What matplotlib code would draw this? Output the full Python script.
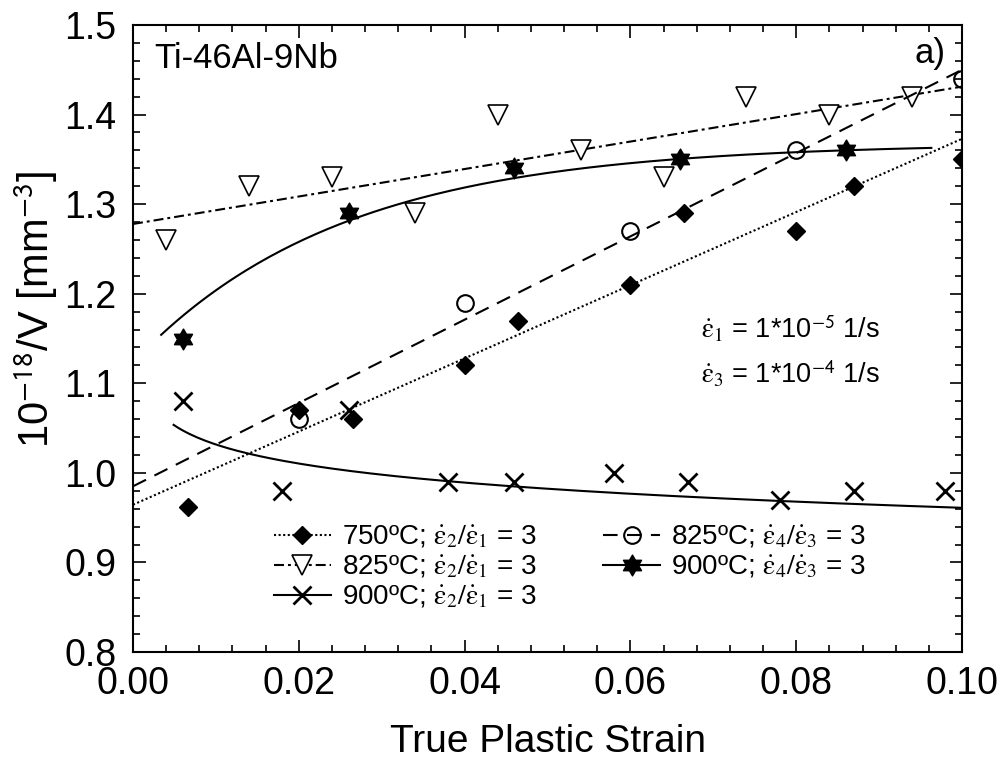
import numpy as np
import matplotlib
matplotlib.use("Agg")
import matplotlib.pyplot as plt
from matplotlib.path import Path
from matplotlib.lines import Line2D

plt.rcParams['font.family'] = ['Liberation Sans', 'DejaVu Sans']
plt.rcParams['mathtext.fontset'] = 'stix'

# ---------------- data ----------------
x_750 = [0.0066, 0.020, 0.0265, 0.040, 0.0465, 0.060, 0.0665, 0.080, 0.087, 0.100]
y_750 = [0.962, 1.07, 1.06, 1.12, 1.17, 1.21, 1.29, 1.27, 1.32, 1.35]

x_825a = [0.004, 0.014, 0.024, 0.034, 0.044, 0.054, 0.064, 0.074, 0.084, 0.094]
y_825a = [1.26, 1.32, 1.33, 1.29, 1.40, 1.36, 1.33, 1.42, 1.40, 1.42]

x_900a = [0.006, 0.018, 0.026, 0.038, 0.046, 0.058, 0.067, 0.078, 0.087, 0.098]
y_900a = [1.08, 0.98, 1.07, 0.99, 0.99, 1.00, 0.99, 0.97, 0.98, 0.98]

x_825b = [0.020, 0.040, 0.060, 0.080, 0.100]
y_825b = [1.06, 1.19, 1.27, 1.36, 1.44]

x_900b = [0.006, 0.026, 0.046, 0.066, 0.086]
y_900b = [1.15, 1.29, 1.34, 1.35, 1.36]

# fitted curves drawn in the figure (parameters)
fit_900a = dict(a=0.8903, b=-0.0307, xmin=0.0049, xmax=0.100)                  # y = a + b*ln(x)
fit_900b = dict(yinf=1.368, amp=0.245, tau=0.025, xmin=0.0034, xmax=0.0963)    # y = yinf - amp*exp(-x/tau)

labels = [r'750ºC; $\dot{\mathrm{\varepsilon}}_2/\dot{\mathrm{\varepsilon}}_1$ = 3',
          r'825ºC; $\dot{\mathrm{\varepsilon}}_2/\dot{\mathrm{\varepsilon}}_1$ = 3',
          r'900ºC; $\dot{\mathrm{\varepsilon}}_2/\dot{\mathrm{\varepsilon}}_1$ = 3',
          r'825ºC; $\dot{\mathrm{\varepsilon}}_4/\dot{\mathrm{\varepsilon}}_3$ = 3',
          r'900ºC; $\dot{\mathrm{\varepsilon}}_4/\dot{\mathrm{\varepsilon}}_3$ = 3']

xticks = [0.00, 0.02, 0.04, 0.06, 0.08, 0.10]
yticks = [0.8, 0.9, 1.0, 1.1, 1.2, 1.3, 1.4, 1.5]

# ---------------- figure ----------------
fig = plt.figure(figsize=(10.01, 7.60), dpi=100)
ax = fig.add_axes([133/1001, 1 - 652/760, 829/1001, 627/760])

lw = 1.5
star = Path.unit_regular_star(6, 0.58)
ls_dot = (0, (1, 1.2))
ls_dashdot = (0, (4.8, 1.9, 1.4, 1.9))
ls_dash = (0, (7, 4.5))

xl = np.linspace(0, 0.1, 200)

# 750 dotted linear fit
p = np.polyfit(x_750, y_750, 1)
ax.plot(xl, np.polyval(p, xl), color='black', lw=lw, ls=ls_dot)
ax.plot(x_750, y_750, ls='none', marker='D', ms=9.5, color='black')

# 825 triangle dash-dot linear fit
p = np.polyfit(x_825a, y_825a, 1)
ax.plot(xl, np.polyval(p, xl), color='black', lw=lw, ls=ls_dashdot)
ax.plot(x_825a, y_825a, ls='none', marker='v', ms=14, mfc='white', mec='black', mew=1.2)

# 900 X log curve
xc = np.linspace(fit_900a['xmin'], fit_900a['xmax'], 200)
ax.plot(xc, fit_900a['a'] + fit_900a['b'] * np.log(xc), color='black', lw=lw)
ax.plot(x_900a, y_900a, ls='none', marker='x', ms=13, mew=2, color='black')

# 825 circle dashed linear fit
p = np.polyfit(x_825b, y_825b, 1)
ax.plot(xl, np.polyval(p, xl), color='black', lw=lw, ls=ls_dash)
ax.plot(x_825b, y_825b, ls='none', marker='o', ms=12, mfc='none', mec='black', mew=1.5)

# 900 star saturation curve
xs = np.linspace(fit_900b['xmin'], fit_900b['xmax'], 200)
ax.plot(xs, fit_900b['yinf'] - fit_900b['amp'] * np.exp(-xs / fit_900b['tau']), color='black', lw=lw)
ax.plot(x_900b, y_900b, ls='none', marker=star, ms=15, color='black')

# legend proxies
h = [Line2D([], [], color='black', lw=lw, ls=ls_dot, marker='D', ms=9.5),
     Line2D([], [], color='black', lw=lw, ls=ls_dashdot, marker='v', ms=14, mfc='white', mew=1.2),
     Line2D([], [], color='black', lw=lw, marker='x', ms=13, mew=2),
     Line2D([], [], color='black', lw=lw, ls=ls_dash, marker='o', ms=12, mfc='none', mew=1.5),
     Line2D([], [], color='black', lw=lw, marker=star, ms=15)]
ax.legend(h, labels, ncol=2, loc='upper left', bbox_to_anchor=(0.170, 0.205), frameon=False,
          fontsize=20, handlelength=2.05, handletextpad=0.4, columnspacing=2.4,
          labelspacing=0.1, borderpad=0, borderaxespad=0)

ax.set_xlim(0, 0.1)
ax.set_ylim(0.8, 1.5)
ax.set_xticks(xticks)
ax.set_xticklabels([f'{v:.2f}' for v in xticks])
ax.set_yticks(yticks)
ax.set_yticklabels([f'{v:.1f}' for v in yticks])
ax.set_xticks(np.arange(0, 0.1001, 0.004), minor=True)
ax.set_yticks(np.arange(0.8, 1.5001, 0.02), minor=True)
ax.tick_params(which='both', direction='in', top=True, right=True, width=1.2)
ax.tick_params(which='major', length=9, labelsize=27)
ax.tick_params(which='minor', length=5)
ax.tick_params(axis='y', pad=12)
ax.tick_params(axis='x', pad=10)
for s in ax.spines.values():
    s.set_linewidth(1.5)

ax.set_xlabel('True Plastic Strain', fontsize=28, labelpad=16)
ax.set_ylabel(r'10$^{\mathsf{-18}}$/V [mm$^{\mathsf{-3}}$]', fontsize=30)
ax.yaxis.set_label_coords(-0.088, 0.546)

ax.text(0.0026, 1.463, 'Ti-46Al-9Nb', fontsize=25, va='center', ha='left')
ax.text(0.0961, 1.468, 'a)', fontsize=25, va='center', ha='center')
ax.text(0.0685, 1.160, r'$\dot{\mathrm{\varepsilon}}_1$ = 1*10$^{\mathsf{-5}}$ 1/s', fontsize=19.5, va='center')
ax.text(0.0685, 1.110, r'$\dot{\mathrm{\varepsilon}}_3$ = 1*10$^{\mathsf{-4}}$ 1/s', fontsize=19.5, va='center')

fig.savefig('out.png', dpi=100)
